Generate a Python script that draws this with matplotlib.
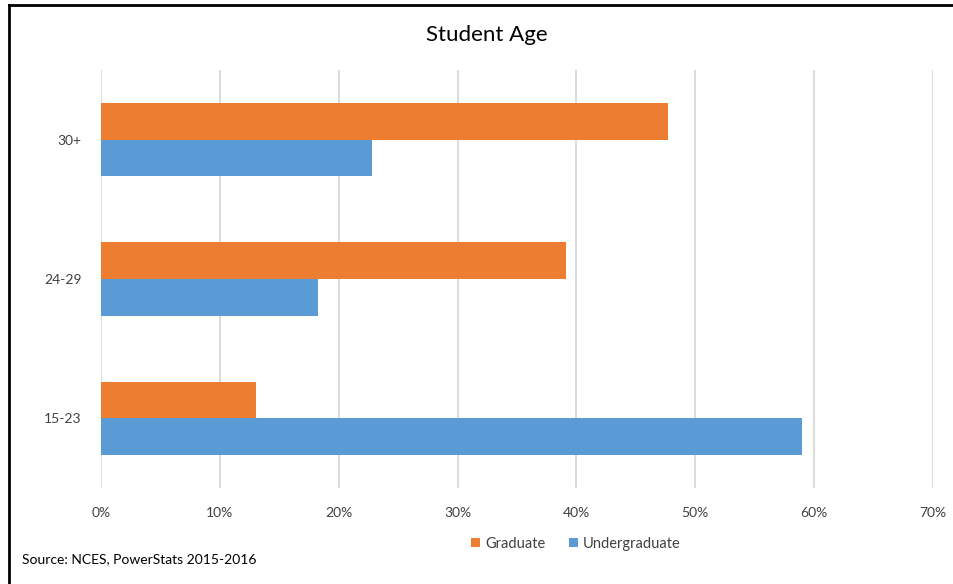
import numpy as np
import matplotlib.pyplot as plt

plt.rcParams['font.family'] = ['Lato', 'DejaVu Sans']

categories = ['15-23', '24-29', '30+']
graduate = [13.0, 39.1, 47.7]
undergraduate = [59.0, 18.25, 22.8]
xticks = [0, 10, 20, 30, 40, 50, 60, 70]

W, H = 954, 584
fig = plt.figure(figsize=(W / 100, H / 100), dpi=100)
ax = fig.add_axes([101 / W, (H - 488) / H, (933 - 101) / W, (488 - 70) / H])

y = np.arange(len(categories))
h = 0.263
ax.barh(y + h / 2, graduate, height=h, color='#ED7D31', label='Graduate', zorder=3)
ax.barh(y - h / 2, undergraduate, height=h, color='#5B9BD5', label='Undergraduate', zorder=3)

ax.set_xlim(0, 70)
ax.set_ylim(-0.5, 2.5)
ax.set_xticks(xticks)
ax.set_xticklabels([f'{t}%' for t in xticks])
ax.set_yticks(y)
ax.set_yticklabels(categories)
ax.tick_params(length=0, labelsize=10, colors='#404040')
ax.tick_params(axis='x', pad=14)
ax.tick_params(axis='y', pad=14)
ax.grid(axis='x', color='#D9D9D9', linewidth=1.3, zorder=0)
for s in ax.spines.values():
    s.set_visible(False)

fig.text(487 / W, 1 - 35 / H, 'Student Age', ha='center', va='center', fontsize=16, color='#000000')
fig.text(22 / W, 1 - 559 / H, 'Source: NCES, PowerStats 2015-2016', ha='left', va='center',
         fontsize=10, color='#000000')

leg = fig.legend(loc='center', bbox_to_anchor=(576 / W, 1 - 544 / H), ncol=2, frameon=False,
                 fontsize=10.5, handlelength=0.6, handleheight=0.6, handletextpad=0.35,
                 columnspacing=1.6)
for t in leg.get_texts():
    t.set_color('#404040')

# outer frame (left and top edges visible)
fig.add_artist(plt.Line2D([9 / W, 9 / W], [0, 1 - 5 / H], color='black', linewidth=2,
                          transform=fig.transFigure))
fig.add_artist(plt.Line2D([9 / W, 1], [1 - 5 / H, 1 - 5 / H], color='black', linewidth=2,
                          transform=fig.transFigure))

fig.savefig('out.png', dpi=100)
